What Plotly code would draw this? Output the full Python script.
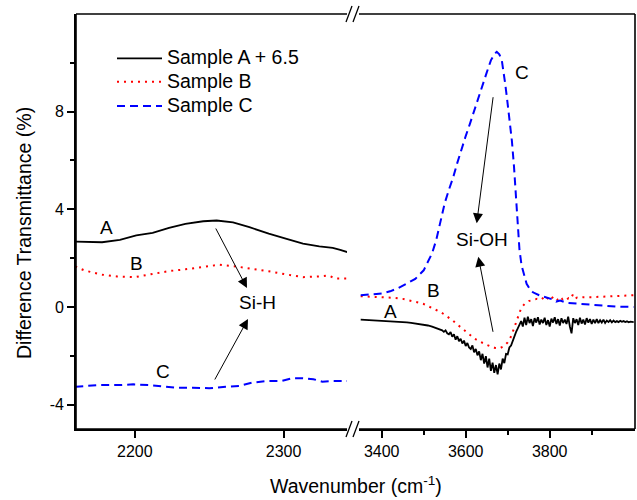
import plotly.graph_objects as go

# ---------------- data ----------------
wn_left_A = [2160, 2166, 2178, 2190, 2201, 2212, 2223, 2234, 2246, 2255, 2266, 2277, 2290, 2302, 2313, 2324, 2333, 2338, 2344]
val_left_A = [2.68, 2.67, 2.65, 2.75, 2.93, 3.03, 3.24, 3.40, 3.51, 3.54, 3.46, 3.27, 3.00, 2.79, 2.59, 2.48, 2.42, 2.34, 2.22]

wn_left_B = [2160, 2166, 2177, 2188, 2200, 2211, 2223, 2234, 2246, 2257, 2268, 2279, 2290, 2302, 2313, 2324, 2330, 2335, 2344]
val_left_B = [1.66, 1.50, 1.33, 1.25, 1.22, 1.33, 1.47, 1.54, 1.63, 1.73, 1.66, 1.57, 1.46, 1.33, 1.22, 1.25, 1.29, 1.16, 1.16]

wn_left_C = [2160, 2176, 2190, 2199, 2210, 2219, 2228, 2239, 2250, 2261, 2270, 2279, 2290, 2299, 2306, 2313, 2320, 2326, 2333, 2344]
val_left_C = [-3.27, -3.20, -3.20, -3.17, -3.20, -3.27, -3.31, -3.31, -3.33, -3.27, -3.24, -3.10, -3.03, -3.03, -2.92, -2.92, -2.96, -3.06, -3.03, -3.03]

wn_right_A = [3350, 3360, 3370, 3380, 3390, 3400, 3410, 3420, 3430, 3440, 3450, 3460, 3470, 3480, 3490,
              3500, 3510, 3520, 3530, 3540,
              3544, 3548, 3552, 3556, 3560, 3564, 3568, 3572, 3576, 3580, 3584, 3588, 3592, 3596,
              3600, 3604, 3608, 3612, 3616, 3620, 3624, 3628, 3632, 3636, 3640, 3644, 3648, 3652, 3656,
              3660, 3664, 3668, 3672, 3676, 3680, 3684, 3688, 3692, 3696, 3700, 3704, 3708, 3712, 3716,
              3720, 3724, 3728, 3732, 3736, 3740, 3744, 3748, 3752, 3756, 3760, 3764, 3768, 3772, 3776,
              3780, 3784, 3788, 3792, 3796, 3800, 3804, 3808, 3812, 3816, 3820, 3824, 3828, 3832, 3836,
              3840, 3844, 3848, 3852, 3856, 3860, 3864, 3868, 3872, 3876, 3880, 3884, 3888, 3892, 3896,
              3900, 3904, 3908, 3912, 3916, 3920, 3924, 3928, 3932, 3936, 3940, 3944, 3948, 3952, 3956,
              3960, 3964, 3968, 3972, 3976, 3980, 3984, 3988, 3992, 3996, 4000]
val_right_A = [-0.52, -0.53, -0.53, -0.54, -0.54, -0.55, -0.56, -0.58, -0.59, -0.60, -0.62, -0.63, -0.65, -0.67, -0.70,
               -0.73, -0.76, -0.81, -0.86, -0.92,
               -0.96, -1.02, -0.96, -1.08, -1.12, -1.03, -1.22, -1.12, -1.34, -1.20, -1.40, -1.30, -1.50, -1.38,
               -1.60, -1.48, -1.66, -1.72, -1.58, -1.86, -1.72, -1.98, -1.82, -2.18, -1.92, -2.32, -2.02, -2.48, -2.12,
               -2.62, -2.28, -2.70, -2.38, -2.76, -2.32, -2.56, -2.12, -2.30, -1.92, -1.94, -1.66, -1.58, -1.36, -1.18,
               -1.02, -0.88, -0.76, -0.58, -0.80, -0.44, -0.74, -0.40, -0.66, -0.50, -0.78, -0.46, -0.64, -0.42, -0.72,
               -0.52, -0.66, -0.44, -0.74, -0.54, -0.80, -0.48, -0.64, -0.42, -0.70, -0.50, -0.76, -0.46, -0.66, -0.52,
               -0.70, -0.40, -0.80, -1.08, -0.46, -0.66, -0.50, -0.74, -0.44, -0.68, -0.52, -0.72, -0.46, -0.64, -0.50,
               -0.70, -0.52, -0.66, -0.50, -0.66, -0.54, -0.64, -0.52, -0.66, -0.56, -0.62, -0.54, -0.63, -0.56, -0.62,
               -0.58, -0.62, -0.57, -0.61, -0.58, -0.62, -0.59, -0.63, -0.60, -0.62, -0.62]

wn_right_B = [3350, 3370, 3390, 3410, 3430, 3450, 3470, 3490, 3500, 3510, 3520, 3530, 3540, 3550, 3560, 3570, 3580,
              3590, 3600, 3610, 3620, 3630, 3640, 3650, 3660, 3670, 3680, 3690, 3700, 3705, 3710, 3715, 3720, 3725,
              3730, 3735, 3740, 3750, 3760, 3770, 3780, 3785, 3790, 3795, 3800, 3805, 3810, 3815, 3820, 3825, 3830,
              3835, 3840, 3845, 3850, 3855, 3860, 3865, 3870, 3880, 3900, 3920, 3940, 3960, 3980, 4000]
val_right_B = [0.44, 0.43, 0.42, 0.40, 0.37, 0.33, 0.26, 0.17, 0.12, 0.04, -0.04, -0.12, -0.21, -0.32, -0.44, -0.57, -0.72,
               -0.87, -1.01, -1.15, -1.28, -1.39, -1.48, -1.55, -1.62, -1.68, -1.70, -1.62, -1.45, -1.32, -1.12, -0.88, -0.60, -0.36,
               -0.15, 0.02, 0.12, 0.24, 0.30, 0.33, 0.30, 0.38, 0.28, 0.36, 0.31, 0.42, 0.30, 0.35, 0.28, 0.40, 0.32,
               0.37, 0.30, 0.36, 0.33, 0.50, 0.34, 0.38, 0.36, 0.40, 0.40, 0.42, 0.43, 0.44, 0.46, 0.48]

wn_right_C = [3350, 3380, 3400, 3420, 3440, 3460, 3480, 3500, 3510, 3520, 3530, 3540, 3550, 3560, 3570, 3580, 3590,
              3600, 3610, 3620, 3630, 3640, 3650, 3660, 3668, 3674, 3680, 3686, 3690, 3694, 3698, 3702, 3706, 3710,
              3715, 3720, 3724, 3728, 3733, 3740, 3745, 3752, 3760, 3775, 3790, 3805, 3815, 3825, 3840, 3860, 3880,
              3900, 3930, 3960, 4000]
val_right_C = [0.48, 0.51, 0.55, 0.64, 0.78, 0.96, 1.15, 1.50, 1.85, 2.20, 2.75, 3.50, 4.25, 4.80, 5.30, 5.90, 6.50,
               7.00, 7.50, 8.05, 8.57, 9.10, 9.60, 10.10, 10.35, 10.45, 10.35, 10.10, 9.70, 9.15, 8.60, 8.00, 7.40, 6.80,
               5.75, 4.40, 3.10, 2.35, 1.70, 1.20, 0.95, 0.75, 0.60, 0.48, 0.40, 0.32, 0.22, 0.26, 0.17, 0.14, 0.12,
               0.08, 0.03, 0.01, 0.00]

series_names = ["Sample A + 6.5", "Sample B", "Sample C"]
x_ticks_left = [2200, 2300]
x_ticks_right = [3400, 3600, 3800]
x_minor_right = [3500, 3700, 3900]
y_ticks = [-4, 0, 4, 8]
y_ticktext = ["-4", "0", "4", "8"]
y_minor = [-2, 2, 6, 10]

# ---------------- geometry (pixels) ----------------
W, H = 637, 500
ML, MR, MT, MB = 76, 2, 14, 71
PW, PH = W - ML - MR, H - MT - MB
LEFT_END_PX, RIGHT_START_PX = 347, 359


def px_x(px):
    return (px - ML) / PW


def px_y(py):
    return (MT + PH - py) / PH


FONT = "Liberation Sans, Arial, Helvetica, sans-serif"
BLACK, RED, BLUE = "#000000", "#ff0000", "#0000ff"

styleA = dict(color=BLACK, width=1.8)
styleB = dict(color=RED, width=2, dash="2px,5px")
styleC = dict(color=BLUE, width=2, dash="8px,5px")
styles = [styleA, styleB, styleC]

fig = go.Figure()
left_sets = [(wn_left_A, val_left_A), (wn_left_B, val_left_B), (wn_left_C, val_left_C)]
right_sets = [(wn_right_A, val_right_A), (wn_right_B, val_right_B), (wn_right_C, val_right_C)]
for (xs, ys), st, nm in zip(left_sets, styles, series_names):
    fig.add_trace(go.Scatter(x=xs, y=ys, mode="lines", line=st, name=nm, showlegend=False,
                             xaxis="x", yaxis="y"))
for (xs, ys), st, nm in zip(right_sets, styles, series_names):
    fig.add_trace(go.Scatter(x=xs, y=ys, mode="lines", line=st, name=nm, showlegend=False,
                             xaxis="x2", yaxis="y"))

LW = 1.6
axis_common = dict(showline=True, linecolor=BLACK, linewidth=LW, showgrid=False, zeroline=False,
                   tickfont=dict(size=16, color=BLACK, family=FONT), tickcolor=BLACK, tickwidth=LW)

range_left = [2160.5, 2160.5 + (LEFT_END_PX - 76.3) / 1.4867]
range_right = [3400 - (381.7 - RIGHT_START_PX) / 0.42, 3400 + (W - MR - 381.7) / 0.42]
dom_left = [0, px_x(LEFT_END_PX)]
dom_right = [px_x(RIGHT_START_PX), 1]

fig.update_layout(
    width=W, height=H,
    margin=dict(l=ML, r=MR, t=MT, b=MB, pad=0),
    paper_bgcolor="white", plot_bgcolor="rgba(0,0,0,0)",
    font=dict(family=FONT, color=BLACK, size=16),
    showlegend=False,
    xaxis=dict(domain=dom_left, range=range_left, anchor="y", tickvals=x_ticks_left,
               ticks="outside", ticklen=7, **axis_common),
    xaxis2=dict(domain=dom_right, range=range_right, anchor="y", tickvals=x_ticks_right,
                ticks="outside", ticklen=7,
                minor=dict(tickvals=x_minor_right, ticks="outside", ticklen=4, tickcolor=BLACK, tickwidth=LW),
                **axis_common),
    xaxis3=dict(domain=dom_left, side="top", anchor="y", range=range_left, tickvals=x_ticks_left,
                ticks="inside", ticklen=4, showticklabels=False, **axis_common),
    xaxis4=dict(domain=dom_right, side="top", anchor="y", range=range_right,
                tickvals=x_ticks_right + x_minor_right,
                ticks="inside", ticklen=4, showticklabels=False, **axis_common),
    yaxis=dict(domain=[0, 1], range=[-5, 12], anchor="x", tickvals=y_ticks, ticktext=y_ticktext,
               ticks="outside", ticklen=7,
               minor=dict(tickvals=y_minor, ticks="outside", ticklen=4, tickcolor=BLACK, tickwidth=LW),
               **axis_common),
    yaxis2=dict(domain=[0, 1], side="right", anchor="x2", range=[-5, 12],
                tickvals=y_ticks + y_minor, ticks="inside", ticklen=4, showticklabels=False,
                **axis_common),
)

# frame lines of the broken axis box
frame = [
    (0, 0, px_x(LEFT_END_PX), 0), (px_x(RIGHT_START_PX), 0, 1, 0),      # bottom
    (0, 1, px_x(LEFT_END_PX), 1), (px_x(RIGHT_START_PX), 1, 1, 1),      # top
    (0, 0, 0, 1), (1, 0, 1, 1),                                          # left / right
]
for x0, y0, x1, y1 in frame:
    fig.add_shape(type="line", xref="paper", yref="paper", x0=x0, y0=y0, x1=x1, y1=y1,
                  line=dict(color=BLACK, width=LW), layer="above")

# legend (drawn as sample lines + real text)
legend_rows = [58.3, 81.7, 106]
for nm, st, ry in zip(series_names, styles, legend_rows):
    fig.add_shape(type="line", xref="paper", yref="paper", x0=px_x(117), x1=px_x(162),
                  y0=px_y(ry), y1=px_y(ry), line=st)
    fig.add_annotation(text=nm, xref="paper", yref="paper", x=px_x(165), y=px_y(ry - 1),
                       showarrow=False, xanchor="left", yanchor="middle",
                       font=dict(size=19.5, family=FONT, color=BLACK))

# axis titles
fig.add_annotation(text="Wavenumber (cm<sup>-1</sup>)", xref="paper", yref="paper",
                   x=px_x(355.5), y=px_y(485), showarrow=False,
                   font=dict(size=19.5, family=FONT, color=BLACK), xanchor="center", yanchor="middle")
fig.add_annotation(text="Difference Transmittance (%)", xref="paper", yref="paper",
                   x=px_x(24), y=px_y(233), showarrow=False, textangle=-90,
                   font=dict(size=19.5, family=FONT, color=BLACK), xanchor="center", yanchor="middle")

# curve labels
labels = [("A", 106, 227), ("B", 136, 263), ("C", 163, 371.5), ("Si-H", 257, 302.5),
          ("Si-OH", 482, 239), ("C", 521.7, 72), ("B", 433, 290), ("A", 390, 311.7)]
for txt, lx, ly in labels:
    fig.add_annotation(text=txt, xref="paper", yref="paper", x=px_x(lx), y=px_y(ly), showarrow=False,
                       font=dict(size=19, family=FONT, color=BLACK), xanchor="center", yanchor="middle")

# arrows (tail -> head)
arrows = [((215, 227), (247, 288)), ((214, 381), (248, 319)),
          ((493.3, 95.7), (476.7, 223.3)), ((493.3, 333.3), (478.3, 256.7))]
for (tx, ty), (hx, hy) in arrows:
    fig.add_annotation(text="", xref="paper", yref="paper", x=px_x(hx), y=px_y(hy),
                       ax=tx - hx, ay=ty - hy, axref="pixel", ayref="pixel",
                       showarrow=True, arrowhead=2, arrowsize=2, arrowwidth=1, arrowcolor=BLACK, standoff=0)

# axis-break marks "//" on top and bottom axes
half = 8 / PH
for yb in (0.0, 1.0):
    for x0, x1 in ((346, 352), (353, 359)):
        fig.add_shape(type="line", xref="paper", yref="paper",
                      x0=px_x(x0), y0=yb - half, x1=px_x(x1), y1=yb + half,
                      line=dict(color=BLACK, width=1.3))

fig.write_html("out.html", config={"displayModeBar": False},
               post_script="document.body.style.margin='0px';")
